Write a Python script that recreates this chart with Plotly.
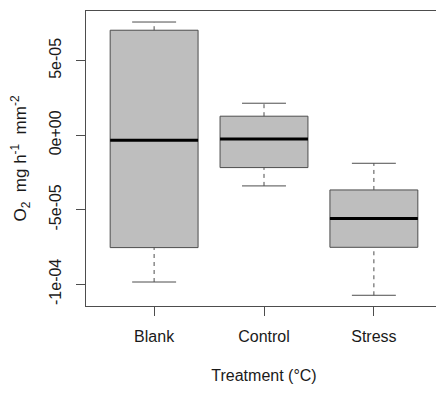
import plotly.graph_objects as go

categories = ["Blank", "Control", "Stress"]
lower_whisker = [-9.85e-5, -3.40e-5, -1.074e-4]
q1 = [-7.54e-5, -2.17e-5, -7.52e-5]
median = [-3.4e-6, -2.5e-6, -5.59e-5]
q3 = [7.05e-5, 1.28e-5, -3.67e-5]
upper_whisker = [7.60e-5, 2.15e-5, -1.88e-5]
y_tick_vals = [-1e-4, -5e-5, 0, 5e-5]
y_tick_text = ["-1e-04", "-5e-05", "0e+00", "5e-05"]

pos = [i + 1 for i in range(len(categories))]
box_w = 0.8
cap_w = 0.4
line_col = "#4d4d4d"

fig = go.Figure()

fig.add_trace(go.Box(
    x=pos, q1=q1, median=median, q3=q3,
    lowerfence=q1, upperfence=q3,
    width=box_w, whiskerwidth=0,
    fillcolor="#bebebe",
    line=dict(color=line_col, width=1),
    boxpoints=False, showlegend=False, hoverinfo="skip",
))

# dashed whiskers
wx, wy = [], []
for p, lo, a, b, hi in zip(pos, lower_whisker, q1, q3, upper_whisker):
    wx += [p, p, None, p, p, None]
    wy += [lo, a, None, b, hi, None]
fig.add_trace(go.Scatter(x=wx, y=wy, mode="lines",
                         line=dict(color=line_col, width=1, dash="4px,4px"),
                         showlegend=False, hoverinfo="skip"))

# caps
cx, cy = [], []
for p, lo, hi in zip(pos, lower_whisker, upper_whisker):
    cx += [p - cap_w / 2, p + cap_w / 2, None, p - cap_w / 2, p + cap_w / 2, None]
    cy += [lo, lo, None, hi, hi, None]
fig.add_trace(go.Scatter(x=cx, y=cy, mode="lines",
                         line=dict(color=line_col, width=1),
                         showlegend=False, hoverinfo="skip"))

# thick medians
mx, my = [], []
for p, m in zip(pos, median):
    mx += [p - box_w / 2, p + box_w / 2, None]
    my += [m, m, None]
fig.add_trace(go.Scatter(x=mx, y=my, mode="lines",
                         line=dict(color="#000000", width=3),
                         showlegend=False, hoverinfo="skip"))

font_fam = "Liberation Sans, Arial, sans-serif"
fig.update_layout(
    width=436, height=386,
    margin=dict(l=78, r=2, t=3, b=88),
    paper_bgcolor="white", plot_bgcolor="white",
    font=dict(family=font_fam, size=16, color="#1a1a1a"),
    xaxis=dict(
        range=[0.38, 3.62], tickvals=pos, ticktext=categories,
        showgrid=False, zeroline=False,
        showline=True, mirror=True, linecolor=line_col, linewidth=1,
        ticks="outside", ticklen=9, tickcolor=line_col, tickwidth=1,
        ticklabelstandoff=7,
        title=dict(text="Treatment (°C)", standoff=25, font=dict(size=16)),
    ),
    yaxis=dict(
        range=[-1.146e-4, 8.34e-5], tickvals=y_tick_vals, ticktext=y_tick_text,
        tickangle=-90,
        showgrid=False, zeroline=False,
        showline=True, mirror=True, linecolor=line_col, linewidth=1,
        ticks="outside", ticklen=9, tickcolor=line_col, tickwidth=1,
        ticklabelstandoff=9,
        title=dict(text="O<sub>2</sub>&nbsp;&nbsp;mg&nbsp;h<sup>-1</sup>&nbsp;&nbsp;mm<sup>-2</sup>",
                   standoff=20, font=dict(size=17)),
    ),
)

fig.write_html("out.html")
